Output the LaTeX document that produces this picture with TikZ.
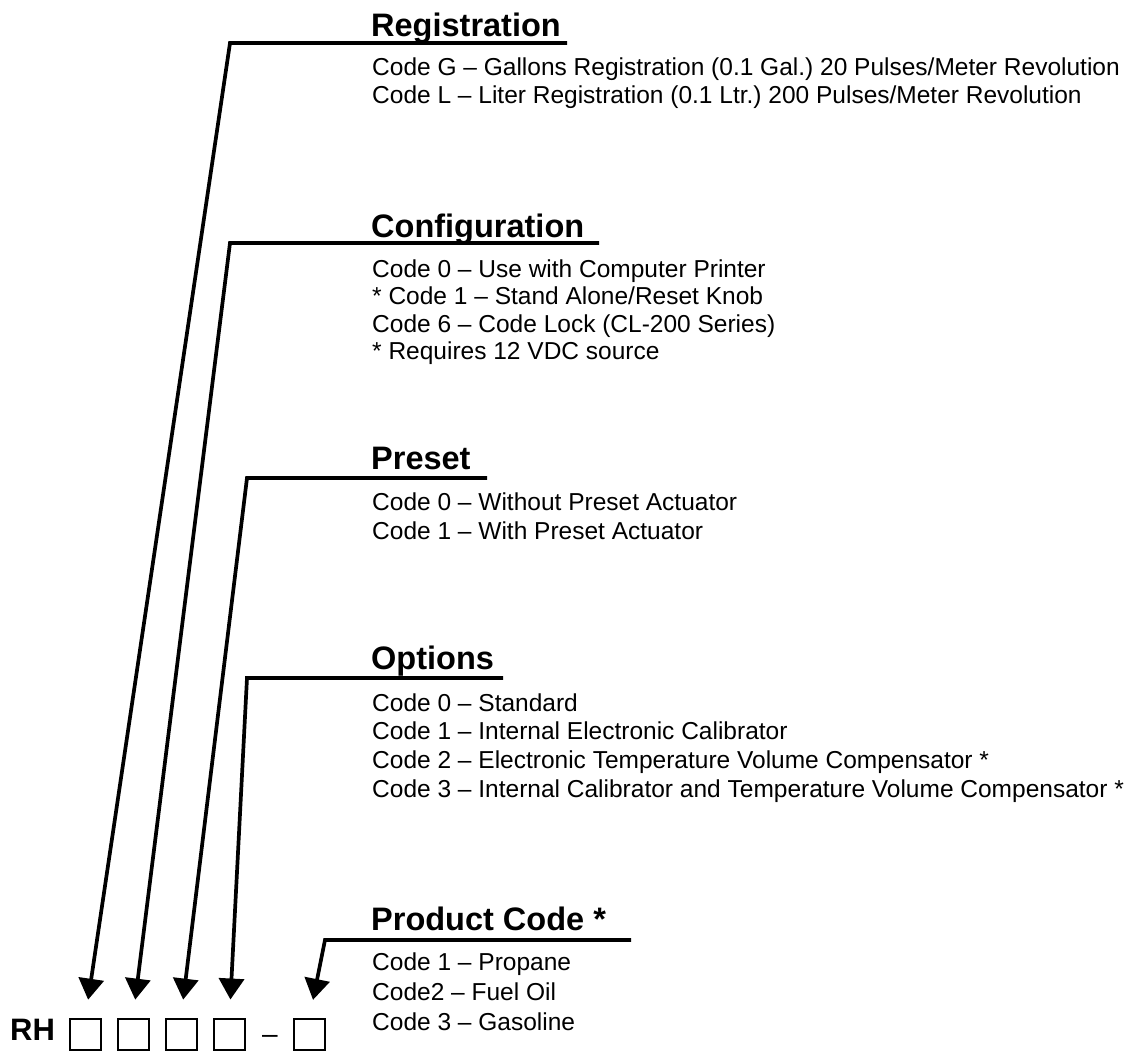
\documentclass[tikz,border=0pt]{standalone}
\usepackage{fontspec}
\setmainfont{Liberation Sans}
\usetikzlibrary{arrows.meta}

\begin{document}
\begin{tikzpicture}[
      x=1pt, y=-1pt,
      head/.style={font=\fontsize{32.5}{39}\selectfont\bfseries, anchor=base west, inner sep=0pt},
      codeline/.style={font=\fontsize{24.5}{29}\selectfont\frenchspacing, anchor=base west, inner sep=0pt},
      digitbox/.style={draw, line width=2pt, minimum size=31pt, inner sep=0pt},
      pointer/.style={line width=3.7pt, -{Triangle[width=25pt,length=21pt]}, shorten >=18pt}
    ]
    \useasboundingbox (0,0) rectangle (1134,1057);
    % Modellnummer
    \node[font=\fontsize{31}{37}\selectfont\bfseries, anchor=base west, inner sep=0pt] (rh) at (10,1040) {RH};
    \node[digitbox] (b1) at (85.5,1034) {};
    \node[digitbox] (b2) at (133,1034) {};
    \node[digitbox] (b3) at (181,1034) {};
    \node[digitbox] (b4) at (229.5,1034) {};
    \node[font=\fontsize{28}{34}\selectfont, anchor=base, inner sep=0pt] (dash) at (270,1043) {–};
    \node[digitbox] (b5) at (309.5,1034) {};

    % Registration
    \node[head] (reg) at (371,37) {Registration};
    \foreach \txt [count=\i] in {Code G – Gallons Registration (0.1 Gal.) 20 Pulses/Meter Revolution,
        Code L – Liter Registration (0.1 Ltr.) 200 Pulses/Meter Revolution}
      \node[codeline] (reg-\i) at (372,{75+28*(\i-1)}) {\txt};
    \coordinate (regL) at (230,43);
    \coordinate (regR) at (567,43);
    \draw[pointer] (regR) -- (regL) -- (b1.north);

    % Configuration
    \node[head] (conf) at (371,237) {Configuration};
    \foreach \txt [count=\i] in {Code 0 – Use with Computer Printer,
        * Code 1 – Stand Alone/Reset Knob,
        Code 6 – Code Lock (CL-200 Series),
        * Requires 12 VDC source}
      \node[codeline] (conf-\i) at (372,{277+27.5*(\i-1)}) {\txt};
    \coordinate (confL) at (230,243);
    \coordinate (confR) at (599,243);
    \draw[pointer] (confR) -- (confL) -- (b2.north);

    % Preset
    \node[head] (pre) at (371,469) {Preset};
    \foreach \txt [count=\i] in {Code 0 – Without Preset Actuator,
        Code 1 – With Preset Actuator}
      \node[codeline] (pre-\i) at (372,{510+29*(\i-1)}) {\txt};
    \coordinate (preL) at (247,478);
    \coordinate (preR) at (487,478);
    \draw[pointer] (preR) -- (preL) -- (b3.north);

    % Options
    \node[head] (opt) at (371,669) {Options};
    \foreach \txt [count=\i] in {Code 0 – Standard,
        Code 1 – Internal Electronic Calibrator,
        Code 2 – Electronic Temperature Volume Compensator *,
        Code 3 – Internal Calibrator and Temperature Volume Compensator *}
      \node[codeline] (opt-\i) at (372,{711+28.7*(\i-1)}) {\txt};
    \coordinate (optL) at (247,678);
    \coordinate (optR) at (503,678);
    \draw[pointer] (optR) -- (optL) -- (b4.north);

    % Product Code
    \node[head] (prod) at (371,930) {Product Code *};
    \foreach \txt [count=\i] in {Code 1 – Propane,
        Code2 – Fuel Oil,
        Code 3 – Gasoline}
      \node[codeline] (prod-\i) at (372,{970+30*(\i-1)}) {\txt};
    \coordinate (prodL) at (325,940);
    \coordinate (prodR) at (631,940);
    \draw[pointer] (prodR) -- (prodL) -- (b5.north);
  \end{tikzpicture}
\end{document}
